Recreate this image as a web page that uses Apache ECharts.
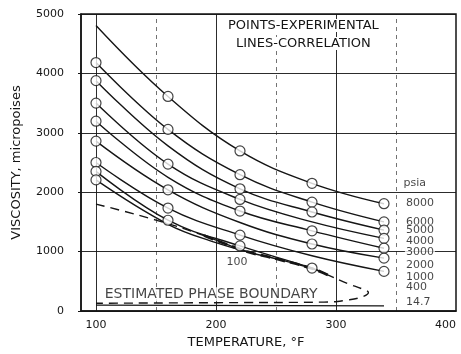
<!DOCTYPE html>
<html lang="en">
<head>
    <meta charset="UTF-8">
    <script src="https://cdn.jsdelivr.net/npm/echarts@6/dist/echarts.min.js"></script>
</head>
<body style="margin:0;background:#fff">
    <div id="main" style="width:461px;height:354px;"></div>
    <script>
        // temperature (F) columns where the curves were read
        var temps = [100, 160, 220, 280, 340]
        var psi8000 = [4807, 3612, 2695, 2150, 1806]
        var psi6000 = [4183, 3057, 2295, 1833, 1500]
        var psi5000 = [3878, 2780, 2057, 1667, 1362]
        var psi4000 = [3500, 2473, 1878, 1500, 1223]
        var psi3000 = [3195, 2250, 1683, 1350, 1057]
        var psi2000 = [2860, 2040, 1490, 1128, 890]
        var psi1000 = [2500, 1733, 1278, 930, 667]
        // 1 = experimental point (circle) drawn there
        var pts8000 = [0, 1, 1, 1, 1]
        var pts6000 = [1, 1, 1, 1, 1]
        var pts5000 = [1, 0, 1, 1, 1]
        var pts4000 = [1, 1, 1, 0, 1]
        var pts3000 = [1, 0, 1, 1, 1]
        var pts2000 = [1, 1, 0, 1, 1]
        var pts1000 = [1, 1, 1, 0, 1]

        var temps400 = [100, 160, 220, 280, 293]
        var psi400 = [2350, 1528, 1095, 723, 612]
        var pts400 = [1, 1, 1, 1, 0]
        var temps100 = [100, 160, 200, 226]
        var psi100 = [2207, 1460, 1150, 1000]
        var pts100 = [1, 0, 0, 0]
        var temps14 = [100, 340]
        var psi14 = [100, 85]

        // estimated phase boundary (dashed)
        var boundT = [100, 150, 190, 226, 250, 280, 295, 310, 322, 327, 322, 308, 290, 200, 100]
        var boundV = [1800, 1530, 1270, 1000, 880, 715, 590, 460, 370, 310, 240, 180, 150, 140, 130]

        var tickTemps = [100, 200, 300, 400]
        var gridTemps = [100, 150, 200, 250, 300, 350]

        var psiNames = ['psia', '8000', '6000', '5000', '4000', '3000', '2000', '1000', '400', '14.7']
        var psiLabelT = [355, 357, 357, 357, 357, 357, 357, 357, 357, 357]
        var psiLabelV = [2160, 1811, 1500, 1362, 1178, 995, 778, 578, 395, 145]

        var curves = [
            [temps, psi8000, pts8000],
            [temps, psi6000, pts6000],
            [temps, psi5000, pts5000],
            [temps, psi4000, pts4000],
            [temps, psi3000, pts3000],
            [temps, psi2000, pts2000],
            [temps, psi1000, pts1000],
            [temps400, psi400, pts400],
            [temps100, psi100, pts100]
        ]

        var ink = '#151515'
        var font = 'DejaVu Sans'
        var series = []
        var circles = []

        curves.forEach(function (c) {
            var d = []
            for (var i = 0; i < c[0].length; i++) {
                d.push([c[0][i], c[1][i]])
                if (c[2][i]) circles.push([c[0][i], c[1][i]])
            }
            series.push({
                type: 'line', data: d, smooth: 0.4, symbol: 'none',
                lineStyle: { color: ink, width: 1.4 }
            })
        })

        series.push({
            type: 'line', smooth: 0.3, symbol: 'none',
            data: temps14.map(function (t, i) { return [t, psi14[i]] }),
            lineStyle: { color: ink, width: 1.3 }
        })

        var bound = boundT.map(function (t, i) { return [t, boundV[i]] })
        series.push({
            type: 'line', smooth: 0.5, symbol: 'none', data: bound,
            lineStyle: { color: ink, width: 1.4, type: [9, 6] }
        })
        series.push({
            type: 'line', smooth: 0.4, symbol: 'none', data: bound.slice(2, 7),
            lineStyle: { color: ink, width: 2.8, type: [10, 5] }
        })

        // grid lines drawn as mark lines (solid every 100 F, dashed in between)
        series.push({
            type: 'line', data: [], silent: true,
            markLine: {
                symbol: ['none', 'none'], label: { show: false }, animation: false,
                data: gridTemps.map(function (t) {
                    return {
                        xAxis: t,
                        lineStyle: { color: ink, width: 1, type: t % 100 === 0 ? 'solid' : [4, 4], opacity: t % 100 === 0 ? 0.9 : 0.6 }
                    }
                })
            }
        })

        series.push({
            type: 'scatter', data: circles, symbol: 'circle', symbolSize: 10, z: 5,
            itemStyle: { color: '#fff', borderColor: ink, borderWidth: 1.2 }
        })

        series.push({
            type: 'scatter', symbolSize: 1, z: 6,
            itemStyle: { color: 'rgba(0,0,0,0)' },
            data: psiNames.map(function (n, i) { return { name: n, value: [psiLabelT[i], psiLabelV[i]] } }),
            label: {
                show: true, position: 'right', distance: 0, formatter: '{b}',
                color: ink, fontSize: 11, fontFamily: font, backgroundColor: '#fff', padding: [0, 1]
            }
        })

        series.push({
            type: 'scatter', symbolSize: 1, z: 6,
            itemStyle: { color: 'rgba(0,0,0,0)' },
            data: [
                { name: '100', value: [217.5, 828], label: { fontSize: 11 } },
                { name: 'ESTIMATED PHASE BOUNDARY', value: [196, 280], label: { fontSize: 14 } }
            ],
            label: {
                show: true, position: 'inside', formatter: '{b}',
                color: ink, fontFamily: font, backgroundColor: '#fff', padding: [0, 1]
            }
        })

        var myChart = echarts.init(document.getElementById('main'))
        var option = {
            animation: false,
            backgroundColor: '#fff',
            grid: { left: 81, right: 5, top: 14, bottom: 42, show: true, borderColor: ink, borderWidth: 1.5 },
            xAxis: {
                type: 'value', min: 87.5, max: 400,
                axisLine: { lineStyle: { color: ink, width: 1.5 } },
                axisTick: { show: false, customValues: tickTemps },
                axisLabel: { customValues: tickTemps, color: ink, fontSize: 11, fontFamily: font, margin: 9, alignMaxLabel: 'right' },
                splitLine: { show: false },
                name: 'TEMPERATURE, °F', nameLocation: 'middle', nameGap: 25,
                nameTextStyle: { color: ink, fontSize: 13, fontFamily: font, padding: [0, 45, 0, 0] }
            },
            yAxis: {
                type: 'value', min: 0, max: 5000, interval: 1000,
                axisLine: { show: true, lineStyle: { color: ink, width: 1.5 } },
                axisTick: { show: true, length: 3, lineStyle: { color: ink } },
                axisLabel: { color: ink, fontSize: 11, fontFamily: font, margin: 17, formatter: function (v) { return String(v) } },
                splitLine: { lineStyle: { color: ink, width: 1, opacity: 0.9 } },
                name: 'VISCOSITY, micropoises', nameLocation: 'middle', nameGap: 58,
                nameTextStyle: { color: ink, fontSize: 13, fontFamily: font }
            },
            graphic: [
                { type: 'text', left: 228, top: 19, z: 10,
                  style: { text: 'POINTS-EXPERIMENTAL', fill: ink, font: '13px "DejaVu Sans"', backgroundColor: '#fff' } },
                { type: 'text', left: 236, top: 37, z: 10,
                  style: { text: 'LINES-CORRELATION', fill: ink, font: '13px "DejaVu Sans"', backgroundColor: '#fff' } }
            ],
            series: series
        }
        myChart.setOption(option)
    </script>
</body>
</html>
